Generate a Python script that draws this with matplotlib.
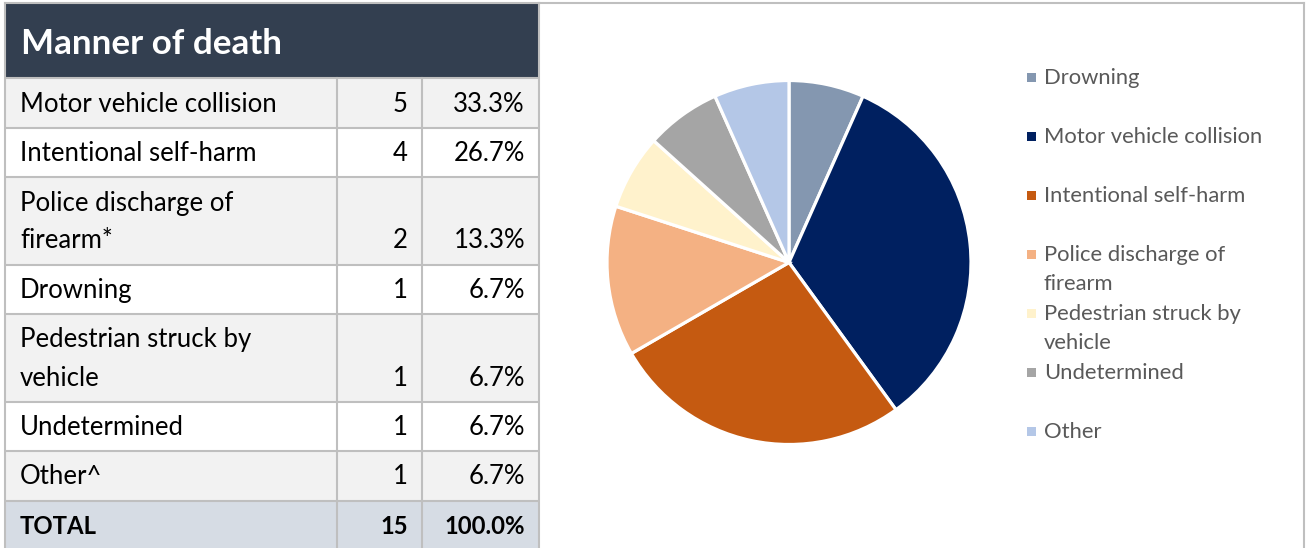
import matplotlib
matplotlib.use("Agg")
import matplotlib.pyplot as plt
from matplotlib.patches import Rectangle

# ---------------- data ----------------
title = "Manner of death"
table_labels = ["Motor vehicle collision", "Intentional self-harm",
                "Police discharge of\nfirearm*", "Drowning",
                "Pedestrian struck by\nvehicle", "Undetermined", "Other^"]
table_counts = [5, 4, 2, 1, 1, 1, 1]
table_pcts = ["33.3%", "26.7%", "13.3%", "6.7%", "6.7%", "6.7%", "6.7%"]
total_label = "TOTAL"
total_count = 15
total_pct = "100.0%"

pie_labels = ["Drowning", "Motor vehicle collision", "Intentional self-harm",
              "Police discharge of\nfirearm", "Pedestrian struck by\nvehicle",
              "Undetermined", "Other"]
pie_values = [1, 5, 4, 2, 1, 1, 1]
pie_colors = ["#8497B0", "#002060", "#C55A11", "#F4B183", "#FFF2CC",
              "#A5A5A5", "#B4C7E7"]

# ---------------- styling ----------------
FAM = ["Lato", "DejaVu Sans"]
plt.rcParams["font.family"] = FAM
W, H = 1306, 548
fig = plt.figure(figsize=(W / 100, H / 100), dpi=100)
ax = fig.add_axes([0, 0, 1, 1])
ax.set_xlim(0, W)
ax.set_ylim(H, 0)
ax.axis("off")
renderer = fig.canvas.get_renderer()


def fit(text, target_px, **kw):
    t = ax.text(0, 0, text, fontsize=20, **kw)
    w = t.get_window_extent(renderer).width
    t.remove()
    return 20 * target_px / w


grid_c = "#BFBFBF"
grid_lw = 1.5
header_c = "#333F50"
alt_c = "#F2F2F2"
total_c = "#D6DCE4"

body_fs = fit("Motor vehicle collision", 256)
head_fs = fit(title, 261, fontweight="bold")
leg_fs = fit("Motor vehicle collision", 219)

cols = [5, 337, 422, 539]
top = 3
head_bot = 78
single_h = 49.5
line_gap = 38

# header
ax.add_patch(Rectangle((cols[0], top), cols[-1] - cols[0], head_bot - top,
                       facecolor=header_c, edgecolor="none"))
ax.text(21, 54, title, fontsize=head_fs, fontweight="bold", color="white",
        va="baseline", ha="left")

# body rows
y = head_bot
row_edges = [y]
for i, (lab, cnt, pct) in enumerate(zip(table_labels, table_counts, table_pcts)):
    n = lab.count("\n") + 1
    h = single_h + line_gap * (n - 1)
    fc = alt_c if i % 2 == 0 else "white"
    ax.add_patch(Rectangle((cols[0], y), cols[-1] - cols[0], h,
                           facecolor=fc, edgecolor="none"))
    base = y + h - 16
    for k, ln in enumerate(lab.split("\n")):
        ax.text(20, base - line_gap * (n - 1 - k), ln, fontsize=body_fs,
                color="black", va="baseline", ha="left")
    ax.text(cols[2] - 14, base, str(cnt), fontsize=body_fs, color="black",
            va="baseline", ha="right")
    ax.text(cols[3] - 14, base, pct, fontsize=body_fs, color="black",
            va="baseline", ha="right")
    y += h
    row_edges.append(y)

# total row
ax.add_patch(Rectangle((cols[0], y), cols[-1] - cols[0], 60,
                       facecolor=total_c, edgecolor="none"))
base = y + single_h - 16
ax.text(20, base, total_label, fontsize=body_fs * 0.93, fontweight="bold",
        color="black", va="baseline", ha="left")
ax.text(cols[2] - 14, base, str(total_count), fontsize=body_fs * 0.93,
        fontweight="bold", color="black", va="baseline", ha="right")
ax.text(cols[3] - 14, base, total_pct, fontsize=body_fs * 0.93,
        fontweight="bold", color="black", va="baseline", ha="right")

# grid lines
for ye in row_edges:
    ax.plot([cols[0], cols[-1]], [ye, ye], color=grid_c, lw=grid_lw,
            solid_capstyle="butt")
ax.plot([cols[0], cols[-1]], [top, top], color=grid_c, lw=grid_lw)
for xc in cols[1:3]:
    ax.plot([xc, xc], [head_bot, H + 5], color=grid_c, lw=grid_lw)
for xc in [cols[0], cols[-1]]:
    ax.plot([xc, xc], [top, H + 5], color=grid_c, lw=grid_lw)

# chart frame
ax.plot([cols[-1], 1304], [top, top], color=grid_c, lw=grid_lw)
ax.plot([1304, 1304], [top, H + 5], color=grid_c, lw=grid_lw)

# ---------------- pie ----------------
cx, cy, r = 789, 262.5, 182
pax = fig.add_axes([(cx - r) / W, (H - cy - r) / H, 2 * r / W, 2 * r / H])
pax.pie(pie_values, colors=pie_colors, startangle=90, counterclock=False,
        wedgeprops=dict(edgecolor="white", linewidth=2.3))
pax.set_xlim(-1, 1)
pax.set_ylim(-1, 1)
pax.set_aspect("equal")
pax.axis("off")

# ---------------- legend ----------------
ly0 = 78
slot = 59
lgap = 29
for i, (lab, col) in enumerate(zip(pie_labels, pie_colors)):
    yy = ly0 + i * slot
    ax.add_patch(Rectangle((1027, yy - 5), 9, 9, facecolor=col,
                           edgecolor="none"))
    for k, ln in enumerate(lab.split("\n")):
        ax.text(1044, yy + k * lgap, ln, fontsize=leg_fs, color="#595959",
                va="center", ha="left")

fig.savefig("out.png", dpi=100)
